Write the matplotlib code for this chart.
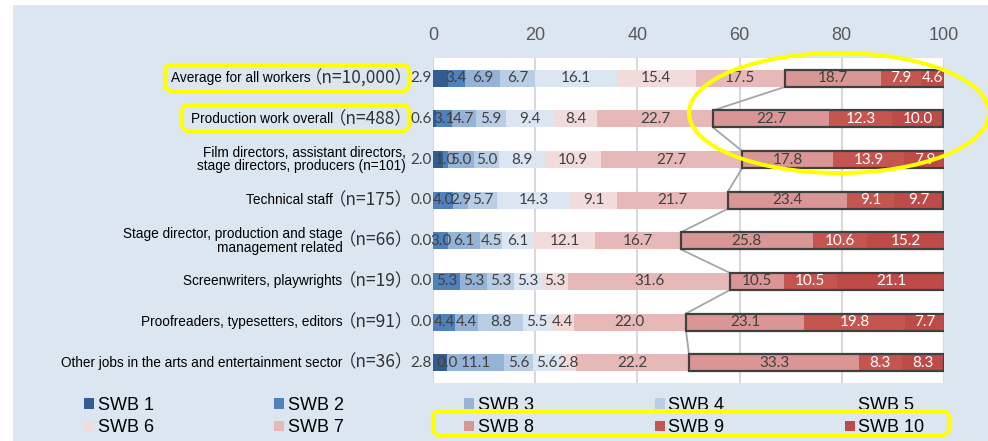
import matplotlib

matplotlib.use("Agg")
import matplotlib.pyplot as plt
import numpy as np
from matplotlib.patches import Ellipse, FancyBboxPatch, Patch, Rectangle
from matplotlib.transforms import IdentityTransform

# figure size in pixels
W, H = 988, 441

categories = [
    "Average for all workers",
    "Production work overall",
    "Film directors, assistant directors,\nstage directors, producers (n=101)",
    "Technical staff",
    "Stage director, production and stage\nmanagement related",
    "Screenwriters, playwrights",
    "Proofreaders, typesetters, editors",
    "Other jobs in the arts and entertainment sector",
]
sample_sizes = ["（n=10,000）", "（n=488）", "", "（n=175）", "（n=66）",
                "（n=19）", "（n=91）", "（n=36）"]

series = [f"SWB {i}" for i in range(1, 11)]
swb1 = [2.9, 0.6, 2.0, 0.0, 0.0, 0.0, 0.0, 2.8]
swb2 = [3.4, 3.1, 1.0, 4.0, 3.0, 5.3, 4.4, 0.0]
swb3 = [6.9, 4.7, 5.0, 2.9, 6.1, 5.3, 4.4, 11.1]
swb4 = [6.7, 5.9, 5.0, 5.7, 4.5, 5.3, 8.8, 5.6]
swb5 = [16.1, 9.4, 8.9, 14.3, 6.1, 5.3, 5.5, 5.6]
swb6 = [15.4, 8.4, 10.9, 9.1, 12.1, 5.3, 4.4, 2.8]
swb7 = [17.5, 22.7, 27.7, 21.7, 16.7, 31.6, 22.0, 22.2]
swb8 = [18.7, 22.7, 17.8, 23.4, 25.8, 10.5, 23.1, 33.3]
swb9 = [7.9, 12.3, 13.9, 9.1, 10.6, 10.5, 19.8, 8.3]
swb10 = [4.6, 10.0, 7.9, 9.7, 15.2, 21.1, 7.7, 8.3]

values = np.array([swb1, swb2, swb3, swb4, swb5, swb6, swb7, swb8, swb9, swb10])

colors = ["#335D90", "#4F81BD", "#95B3D7", "#B9CDE5", "#DCE6F2",
          "#F2DCDB", "#E6B9B8", "#D99694", "#C4554F", "#BF4B48"]
BG = "#DCE6F1"
YELLOW = "#FFFF00"

sans = ["Liberation Sans", "DejaVu Sans"]
cjk = ["Noto Sans CJK JP", "DejaVu Sans"]
valfont = ["Lato", "DejaVu Sans"]

fig = plt.figure(figsize=(W / 100, H / 100), dpi=100, facecolor="white")
fig.patches.append(
    Rectangle((13 / W, 0), 1 - 13 / W, 1 - 5 / H, transform=fig.transFigure,
              facecolor=BG, edgecolor="none", zorder=-10)
)

ax = fig.add_axes([433 / W, 1 - 383 / H, 511 / W, 325 / H])
ax.set_facecolor("white")

y = np.arange(len(categories))
bar_h = 0.42
left = np.zeros(len(categories))
for k, (name, vals) in enumerate(zip(series, values)):
    ax.barh(y, vals, left=left, height=bar_h, color=colors[k], label=name,
            zorder=2, linewidth=0)
    tcol = "white" if k >= 8 else "#404040"
    for i, v in enumerate(vals):
        if k == 0:
            ax.annotate(f"{v:.1f}", xy=(0, y[i]), xytext=(-1, 0),
                        textcoords="offset pixels", ha="right", va="center",
                        fontsize=11, family=valfont, color="#404040",
                        annotation_clip=False)
        else:
            ax.text(left[i] + v / 2, y[i], f"{v:.1f}", ha="center",
                    va="center", fontsize=11, family=valfont, color=tcol,
                    zorder=5)
    left += vals

# outline around SWB 8-10 and series lines between rows
cum7 = values[:7].sum(axis=0)
top3 = values[7:].sum(axis=0)
ax.barh(y, top3, left=cum7, height=bar_h, fill=False, edgecolor="#404040",
        linewidth=1.6, zorder=4)
for i in range(len(y) - 1):
    ax.plot([cum7[i], cum7[i + 1]], [y[i] + bar_h / 2, y[i + 1] - bar_h / 2],
            color="#A6A6A6", linewidth=1.3, zorder=1)

ax.set_xlim(0, 100)
ax.set_ylim(len(y) - 0.5, -0.5)
ax.set_xticks([0, 20, 40, 60, 80, 100])
ax.set_yticks([])
ax.xaxis.tick_top()
ax.tick_params(axis="x", length=0, pad=10, labelsize=13, labelcolor="#595959")
for lab in ax.get_xticklabels():
    lab.set_family(sans)
ax.grid(axis="x", color="#D9D9D9", linewidth=1.5, zorder=0)
ax.set_axisbelow(True)
for s in ax.spines.values():
    s.set_visible(False)

# category labels
for i, (cat, n) in enumerate(zip(categories, sample_sizes)):
    if n:
        nt = ax.annotate(n, xy=(0, y[i]), xytext=(-20, 0),
                         textcoords="offset pixels", ha="right", va="center",
                         fontsize=12.5, family=cjk, color="#333333",
                         annotation_clip=False)
        ax.annotate(cat, xy=(0.05, 0.5), xycoords=nt, ha="right", va="center",
                    fontsize=9.8, family=sans, color="black",
                    multialignment="right", linespacing=0.95)
    else:
        ax.annotate(cat, xy=(0, y[i]), xytext=(-27, 0),
                    textcoords="offset pixels", ha="right", va="center",
                    fontsize=9.8, family=sans, color="black",
                    multialignment="right", linespacing=0.95,
                    annotation_clip=False)

# legend: 2 rows x 5 columns
order = [0, 5, 1, 6, 2, 7, 3, 8, 4, 9]
handles = [Patch(facecolor=colors[k], label=series[k]) for k in order]
fig.legend(handles=handles, ncol=5, loc="upper left",
           bbox_to_anchor=(84 / W, 1 - 397 / H), frameon=False,
           prop={"family": sans, "size": 13}, handlelength=0.55,
           handleheight=0.55, handletextpad=0.2, columnspacing=6.68,
           labelspacing=0.3, borderpad=0, borderaxespad=0)

# yellow highlight marks (pixel positions)
def ybox(x0, y0, x1, y1):
    fig.add_artist(FancyBboxPatch(
        (x0 + 2, H - y1 + 2), x1 - x0 - 4, y1 - y0 - 4,
        boxstyle="round,pad=0,rounding_size=7", transform=IdentityTransform(),
        fill=False, edgecolor=YELLOW, linewidth=2.9, zorder=10))


ybox(163, 63, 411, 93)
ybox(180, 103, 411, 133)
ybox(431, 409, 951, 437)
fig.add_artist(Ellipse((839, H - 113), 300, 120, transform=IdentityTransform(),
                       fill=False, edgecolor=YELLOW, linewidth=2.9, zorder=10))

fig.savefig("out.png", dpi=100, facecolor="white")
